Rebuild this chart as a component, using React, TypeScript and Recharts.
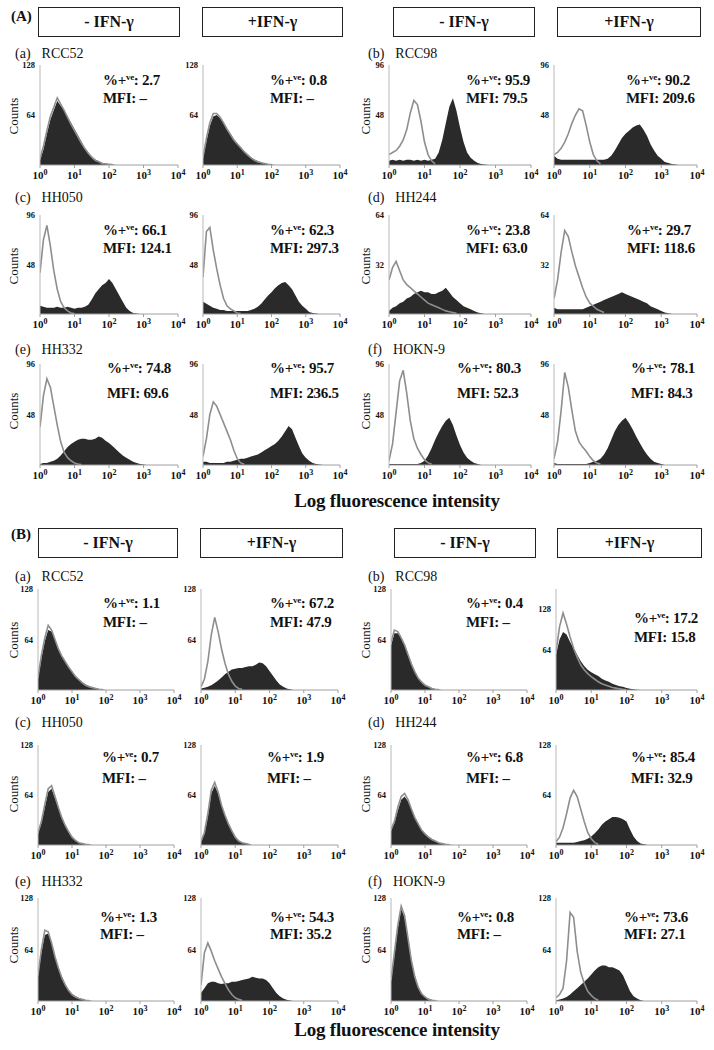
import React from 'react';
import { ComposedChart, Area, Line, XAxis, YAxis } from 'recharts';

// log10 fluorescence bins (decades 10^0 .. 10^4)
const logBins = [0, 0.1, 0.2, 0.3, 0.4, 0.5, 0.6, 0.7, 0.8, 0.9, 1, 1.1, 1.2, 1.3, 1.4, 1.5, 1.6, 1.7, 1.8, 1.9, 2, 2.1, 2.2, 2.3, 2.4, 2.5, 2.6, 2.7, 2.8, 2.9, 3, 3.1, 3.2, 3.3, 3.4, 3.5, 3.6, 3.7, 3.8, 3.9, 4];
const decadeTicks = [0, 1, 2, 3, 4];
const decadeLabels = ['0', '1', '2', '3', '4'];

const cellLines = ['RCC52', 'RCC98', 'HH050', 'HH244', 'HH332', 'HOKN-9'];
const panelLetters = ['a', 'b', 'c', 'd', 'e', 'f'];

const pctA = ['2.7', '0.8', '95.9', '90.2', '66.1', '62.3', '23.8', '29.7', '74.8', '95.7', '80.3', '78.1'];
const mfiA = ['–', '–', '79.5', '209.6', '124.1', '297.3', '63.0', '118.6', '69.6', '236.5', '52.3', '84.3'];
const pctB = ['1.1', '67.2', '0.4', '17.2', '0.7', '1.9', '6.8', '85.4', '1.3', '54.3', '0.8', '73.6'];
const mfiB = ['–', '47.9', '–', '15.8', '–', '–', '–', '32.9', '–', '35.2', '–', '27.1'];

const yMaxA = [128, 128, 96, 96, 96, 96, 64, 64, 96, 96, 96, 96];
const yMaxB = [128, 128, 128, 160, 128, 128, 128, 128, 128, 128, 128, 128];
const yTicksA = [[64, 128], [64, 128], [48, 96], [48, 96], [48, 96], [48, 96], [32, 64], [32, 64], [48, 96], [48, 96], [48, 96], [48, 96]];
const yTicksB = [[64, 128], [64, 128], [64, 128], [64, 128], [64, 128], [64, 128], [64, 128], [64, 128], [64, 128], [64, 128], [64, 128], [64, 128]];

// ---- Section A: stained (filled) and control (outline) counts ----
const A_a_neg_fill = [6, 20, 40, 58, 70, 82, 76, 70, 62, 54, 46, 38, 30, 22, 16, 11, 7, 5, 3, 2, 1, 0.5];
const A_a_neg_ctrl = [8, 24, 44, 62, 74, 86, 78, 70, 61, 52, 44, 36, 28, 21, 15, 10, 6, 4, 2, 1.5, 1, 0.5];
const A_a_pos_fill = [8, 30, 50, 62, 64, 60, 54, 47, 40, 33, 28, 23, 18, 14, 10, 7, 5, 3, 2, 1, 0.5];
const A_a_pos_ctrl = [10, 34, 54, 66, 66, 61, 54, 46, 39, 32, 27, 22, 17, 13, 9, 6, 4, 3, 2, 1, 0.5];

const A_b_neg_fill = [4, 5, 4, 5, 4, 5, 5, 4, 5, 4, 5, 4, 5, 6, 12, 24, 40, 56, 64, 52, 36, 22, 12, 7, 4, 2, 1, 0.5];
const A_b_neg_ctrl = [10, 12, 14, 18, 24, 34, 50, 62, 58, 42, 22, 10, 4, 1];
const A_b_pos_fill = [9, 6, 5, 5, 5, 5, 5, 5, 5, 5, 5, 5, 5, 5, 5, 6, 9, 14, 20, 26, 30, 33, 36, 38, 39, 34, 28, 20, 14, 9, 6, 3, 2, 1, 0.5];
const A_b_pos_ctrl = [10, 12, 16, 22, 30, 40, 48, 54, 52, 38, 22, 10, 4, 1];

const A_c_neg_fill = [8, 7, 6, 6, 6, 7, 6, 6, 7, 6, 5, 6, 6, 7, 9, 14, 20, 24, 28, 30, 34, 30, 24, 18, 12, 6, 3, 1, 0.5];
const A_c_neg_ctrl = [40, 72, 86, 66, 42, 24, 12, 6, 3, 1, 0.5];
const A_c_pos_fill = [12, 10, 8, 6, 5, 4, 4, 3, 3, 3, 3, 3, 3, 3, 4, 5, 7, 10, 14, 18, 21, 25, 28, 30, 31, 28, 24, 18, 12, 8, 5, 2, 1, 0.5];
const A_c_pos_ctrl = [36, 80, 84, 62, 44, 28, 15, 8, 5, 3, 1, 0.5];

const A_d_neg_fill = [2, 4, 5, 7, 8, 10, 11, 13, 14, 15, 14, 14, 13, 13, 14, 15, 17, 14, 11, 9, 7, 5, 4, 3, 2, 1, 0.5];
const A_d_neg_ctrl = [22, 30, 34, 28, 22, 19, 17, 15, 13, 11, 9, 7, 6, 5, 4, 3, 2, 1.5, 1, 0.5];
const A_d_pos_fill = [4, 3, 3, 3, 3, 3, 3, 3, 3, 4, 5, 6, 7, 8, 9, 10, 11, 12, 13, 14, 13, 12, 11, 10, 9, 8, 7, 5, 4, 3, 2, 1, 0.5];
const A_d_pos_ctrl = [10, 22, 40, 54, 50, 40, 31, 24, 17, 11, 7, 5, 3, 2, 1];

const A_e_neg_fill = [1, 2, 2, 3, 4, 6, 9, 13, 17, 20, 22, 24, 25, 25, 24, 24, 25, 27, 26, 23, 21, 18, 15, 12, 9, 7, 5, 3, 2, 1, 0.5];
const A_e_neg_ctrl = [36, 66, 82, 74, 56, 38, 22, 12, 7, 4, 2, 1, 0.5];
const A_e_pos_fill = [3, 3, 2, 2, 2, 2, 2, 3, 3, 4, 5, 6, 6, 7, 8, 9, 10, 12, 14, 16, 18, 20, 23, 27, 32, 37, 34, 26, 18, 11, 7, 4, 2, 1, 0.5];
const A_e_pos_ctrl = [8, 25, 48, 60, 56, 48, 40, 32, 24, 14, 6, 2, 1];

const A_f_neg_fill = [1, 1, 1, 1, 1, 1, 1, 1, 1, 2, 4, 9, 16, 24, 31, 37, 42, 45, 38, 28, 19, 12, 7, 4, 2, 1];
const A_f_neg_ctrl = [4, 20, 50, 80, 90, 68, 42, 25, 16, 10, 5, 2, 1];
const A_f_pos_fill = [2, 1, 1, 1, 1, 1, 1, 1, 1, 1, 2, 3, 4, 6, 10, 16, 24, 32, 38, 42, 45, 40, 34, 27, 21, 15, 10, 6, 3, 2, 1];
const A_f_pos_ctrl = [6, 22, 52, 88, 74, 52, 32, 22, 17, 13, 8, 4, 2, 1];

// ---- Section B ----
const B_a_neg_fill = [14, 40, 62, 76, 74, 64, 52, 44, 37, 30, 24, 18, 14, 10, 7, 5, 3, 2, 1, 0.5];
const B_a_neg_ctrl = [16, 44, 66, 82, 76, 64, 52, 43, 36, 29, 23, 17, 13, 9, 6, 4, 3, 2, 1, 0.5];
const B_a_pos_fill = [2, 3, 4, 6, 9, 12, 16, 20, 23, 26, 27, 28, 28, 29, 30, 30, 32, 35, 34, 30, 24, 18, 12, 7, 4, 2, 1];
const B_a_pos_ctrl = [4, 14, 36, 70, 92, 74, 52, 34, 20, 11, 5, 2, 1];

const B_b_neg_fill = [56, 72, 72, 66, 58, 46, 34, 24, 16, 11, 7, 4, 2, 1, 0.5];
const B_b_neg_ctrl = [60, 76, 74, 66, 57, 45, 33, 23, 15, 10, 6, 4, 2, 1, 0.5];
const B_b_pos_fill = [56, 80, 92, 88, 76, 66, 56, 46, 38, 32, 28, 25, 22, 18, 15, 13, 10, 8, 6, 5, 3, 2, 1, 0.5];
const B_b_pos_ctrl = [60, 100, 122, 104, 84, 66, 52, 40, 32, 26, 21, 17, 13, 10, 8, 6, 4, 3, 2, 1, 0.5];

const B_c_neg_fill = [14, 28, 48, 68, 72, 60, 48, 36, 26, 18, 11, 6, 3, 2, 1, 0.5];
const B_c_neg_ctrl = [16, 30, 52, 72, 76, 62, 48, 35, 25, 17, 10, 6, 3, 2, 1, 0.5];
const B_c_pos_fill = [4, 14, 36, 66, 76, 66, 50, 38, 28, 19, 11, 6, 3, 2, 1];
const B_c_pos_ctrl = [5, 16, 40, 70, 80, 68, 51, 38, 27, 18, 10, 5, 3, 2, 1];

const B_d_neg_fill = [18, 28, 44, 58, 62, 56, 46, 36, 28, 20, 15, 11, 8, 5, 3, 2, 1, 0.5];
const B_d_neg_ctrl = [20, 30, 48, 62, 66, 58, 46, 35, 27, 19, 14, 10, 7, 5, 3, 2, 1, 0.5];
const B_d_pos_fill = [3, 3, 3, 3, 3, 3, 4, 5, 6, 8, 11, 15, 20, 26, 30, 33, 36, 36, 35, 33, 30, 20, 11, 5, 2, 1];
const B_d_pos_ctrl = [4, 10, 22, 40, 60, 70, 62, 46, 30, 16, 8, 3, 1];

const B_e_neg_fill = [30, 60, 82, 84, 72, 56, 42, 30, 21, 14, 9, 6, 4, 2, 1, 0.5];
const B_e_neg_ctrl = [32, 64, 88, 86, 72, 55, 41, 29, 20, 13, 8, 5, 3, 2, 1, 0.5];
const B_e_pos_fill = [10, 16, 22, 24, 24, 22, 21, 22, 22, 24, 24, 25, 26, 27, 28, 30, 29, 28, 28, 26, 22, 16, 10, 6, 3, 1.5, 0.5];
const B_e_pos_ctrl = [20, 60, 72, 62, 50, 40, 30, 22, 14, 8, 4, 2, 1];

const B_f_neg_fill = [24, 56, 90, 114, 104, 78, 52, 32, 18, 10, 5, 3, 1.5, 0.5];
const B_f_neg_ctrl = [26, 60, 94, 118, 106, 78, 50, 30, 17, 9, 5, 2, 1, 0.5];
const B_f_pos_fill = [1, 2, 3, 5, 8, 12, 16, 20, 24, 28, 33, 38, 42, 44, 44, 42, 42, 40, 38, 32, 22, 12, 6, 3, 1];
const B_f_pos_ctrl = [4, 8, 16, 50, 110, 104, 62, 36, 22, 12, 7, 3, 1];

const fillsA = [A_a_neg_fill, A_a_pos_fill, A_b_neg_fill, A_b_pos_fill, A_c_neg_fill, A_c_pos_fill, A_d_neg_fill, A_d_pos_fill, A_e_neg_fill, A_e_pos_fill, A_f_neg_fill, A_f_pos_fill];
const ctrlsA = [A_a_neg_ctrl, A_a_pos_ctrl, A_b_neg_ctrl, A_b_pos_ctrl, A_c_neg_ctrl, A_c_pos_ctrl, A_d_neg_ctrl, A_d_pos_ctrl, A_e_neg_ctrl, A_e_pos_ctrl, A_f_neg_ctrl, A_f_pos_ctrl];
const fillsB = [B_a_neg_fill, B_a_pos_fill, B_b_neg_fill, B_b_pos_fill, B_c_neg_fill, B_c_pos_fill, B_d_neg_fill, B_d_pos_fill, B_e_neg_fill, B_e_pos_fill, B_f_neg_fill, B_f_pos_fill];
const ctrlsB = [B_a_neg_ctrl, B_a_pos_ctrl, B_b_neg_ctrl, B_b_pos_ctrl, B_c_neg_ctrl, B_c_pos_ctrl, B_d_neg_ctrl, B_d_pos_ctrl, B_e_neg_ctrl, B_e_pos_ctrl, B_f_neg_ctrl, B_f_pos_ctrl];

// ---- layout ----
const SERIF = '"Liberation Serif", "DejaVu Serif", "Times New Roman", serif';
const FILL_COLOR = '#2a2a2a';
const CTRL_COLOR = '#8e8e8e';

const layoutA = {
  cols: [[40, 178], [203, 340], [389, 531], [554, 697]],
  rows: [[65, 165], [215, 314], [364, 465]],
  boxes: [[38, 180], [202, 343], [393, 535], [557, 701]],
  boxTop: 7,
  tag: '(A)',
  tagY: 16,
  titleY: [54, 198, 350],
  countsY: [116, 266, 411],
  annX: [103, 270, 466, 626, 103, 270, 466, 627, 107, 270, 457, 631],
  annY: [[80, 98], [80, 98], [80, 98], [80, 98], [230, 248], [230, 248], [230, 248], [230, 248], [368, 393], [368, 393], [368, 393], [368, 393]],
  xLabelY: 501,
};
const layoutB = {
  cols: [[38, 174], [201, 338], [391, 527], [556, 697]],
  rows: [[589, 690], [745, 845], [898, 1001]],
  boxes: [[38, 178], [200, 343], [394, 536], [557, 702]],
  boxTop: 528,
  tag: '(B)',
  tagY: 534,
  titleY: [577, 723, 882],
  countsY: [640, 794, 945],
  annX: [103, 270, 466, 634, 102, 267, 466, 631, 100, 270, 457, 624],
  annY: [[603, 622], [603, 622], [603, 622], [618, 637], [757, 778], [757, 778], [757, 778], [757, 778], [917, 934], [917, 934], [917, 934], [917, 934]],
  xLabelY: 1030,
};

function XTick(props: any) {
  const { x, y, payload } = props;
  const idx = decadeTicks.indexOf(payload.value);
  return (
    <text x={x} y={y} dy={9} textAnchor="middle" fontFamily={SERIF} fontWeight="bold" fontSize={11} fill="#111">
      <tspan>10</tspan>
      <tspan dy={-4} fontSize={8}>{decadeLabels[idx]}</tspan>
    </text>
  );
}

function YTick(props: any) {
  const { x, y, payload } = props;
  return (
    <text x={x} y={y} dy={3} textAnchor="end" fontFamily={SERIF} fontWeight="bold" fontSize={8.5} fill="#111">
      {payload.value}
    </text>
  );
}

function Histogram(props: any) {
  const { fillVals, ctrlVals, ymax, yTicks, left, right, top, bottom } = props;
  const data = logBins.map((b, i) => ({
    b,
    fill: i < fillVals.length ? fillVals[i] : 0,
    ctrl: i < ctrlVals.length ? ctrlVals[i] : null,
  }));
  const ML = 30, MR = 12, MT = 6, XH = 22;
  return (
    <div style={{ position: 'absolute', left: left - ML, top: top - MT }}>
      <ComposedChart
        width={right - left + ML + MR}
        height={bottom - top + MT + XH}
        data={data}
        margin={{ top: MT, right: MR, bottom: 0, left: 0 }}
      >
        <XAxis
          dataKey="b"
          type="number"
          domain={[0, 4]}
          ticks={decadeTicks}
          interval={0}
          height={XH}
          tickSize={3}
          axisLine={{ stroke: '#a0a0a0' }}
          tickLine={{ stroke: '#a0a0a0' }}
          tick={XTick}
          allowDataOverflow
        />
        <YAxis
          type="number"
          domain={[0, ymax]}
          ticks={yTicks}
          interval={0}
          width={ML}
          tickSize={3}
          axisLine={{ stroke: '#b8b8b8' }}
          tickLine={false}
          tick={YTick}
          allowDataOverflow
        />
        <Area
          dataKey="fill"
          type="linear"
          fill={FILL_COLOR}
          fillOpacity={1}
          stroke="none"
          isAnimationActive={false}
        />
        <Line
          dataKey="ctrl"
          type="linear"
          stroke={CTRL_COLOR}
          strokeWidth={1.6}
          dot={false}
          activeDot={false}
          isAnimationActive={false}
        />
      </ComposedChart>
    </div>
  );
}

function Section(props: any) {
  const { layout, fills, ctrls, pcts, mfis, yMax, yTicks } = props;
  const items: any[] = [];
  layout.boxes.forEach((bx: number[], i: number) => {
    items.push(
      <div
        key={'box' + i}
        style={{
          position: 'absolute', left: bx[0], top: layout.boxTop, width: bx[1] - bx[0], height: 30,
          border: '1.5px solid #222', boxSizing: 'border-box', textAlign: 'center',
          fontFamily: SERIF, fontWeight: 'bold', fontSize: 16, lineHeight: '27px', color: '#111',
        }}
      >
        {i % 2 === 0 ? '- IFN-γ' : '+IFN-γ'}
      </div>
    );
  });
  items.push(
    <div key="tag" style={{ position: 'absolute', left: 11, top: layout.tagY - 9, fontFamily: SERIF, fontWeight: 'bold', fontSize: 15, lineHeight: '18px', color: '#111' }}>
      {layout.tag}
    </div>
  );
  for (let p = 0; p < 12; p++) {
    const row = Math.floor(p / 4);
    const col = p % 4;
    const cellIdx = row * 2 + (col >= 2 ? 1 : 0);
    const [left, right] = layout.cols[col];
    const [top, bottom] = layout.rows[row];
    items.push(
      <Histogram
        key={'h' + p}
        fillVals={fills[p]}
        ctrlVals={ctrls[p]}
        ymax={yMax[p]}
        yTicks={yTicks[p]}
        left={left}
        right={right}
        top={top}
        bottom={bottom}
      />
    );
    items.push(
      <div key={'a1' + p} style={{ position: 'absolute', left: layout.annX[p], top: layout.annY[p][0] - 9, fontFamily: SERIF, fontWeight: 'bold', fontSize: 15, lineHeight: '18px', color: '#111', whiteSpace: 'nowrap', letterSpacing: -0.3 }}>
        %+<span style={{ fontSize: 9, position: 'relative', top: -5 }}>ve</span>: {pcts[p]}
      </div>
    );
    items.push(
      <div key={'a2' + p} style={{ position: 'absolute', left: layout.annX[p], top: layout.annY[p][1] - 9, fontFamily: SERIF, fontWeight: 'bold', fontSize: 15, lineHeight: '18px', color: '#111', whiteSpace: 'nowrap', letterSpacing: -0.3 }}>
        MFI: {mfis[p]}
      </div>
    );
    if (col === 0 || col === 2) {
      items.push(
        <div key={'t' + p} style={{ position: 'absolute', left: col === 0 ? 15 : 368, top: layout.titleY[row] - 9, fontFamily: SERIF, fontSize: 14, lineHeight: '18px', color: '#111', whiteSpace: 'nowrap' }}>
          ({panelLetters[cellIdx]})<span style={{ marginLeft: 11 }}>{cellLines[cellIdx]}</span>
        </div>
      );
      items.push(
        <div key={'c' + p} style={{ position: 'absolute', left: (col === 0 ? 14 : 366) - 25, top: layout.countsY[row] - 8, width: 50, height: 16, textAlign: 'center', transform: 'rotate(-90deg)', fontFamily: SERIF, fontSize: 13, lineHeight: '16px', color: '#111' }}>
          Counts
        </div>
      );
    }
  }
  items.push(
    <div key="xl" style={{ position: 'absolute', left: 397 - 160, width: 320, top: layout.xLabelY - 11, textAlign: 'center', fontFamily: SERIF, fontWeight: 'bold', fontSize: 19, lineHeight: '22px', color: '#111', letterSpacing: -0.2 }}>
      Log fluorescence intensity
    </div>
  );
  return <>{items}</>;
}

export default function App() {
  return (
    <div style={{ position: 'absolute', left: 0, top: 0, width: 714, height: 1050, background: '#fff', overflow: 'hidden' }}>
      <Section layout={layoutA} fills={fillsA} ctrls={ctrlsA} pcts={pctA} mfis={mfiA} yMax={yMaxA} yTicks={yTicksA} />
      <Section layout={layoutB} fills={fillsB} ctrls={ctrlsB} pcts={pctB} mfis={mfiB} yMax={yMaxB} yTicks={yTicksB} />
    </div>
  );
}
